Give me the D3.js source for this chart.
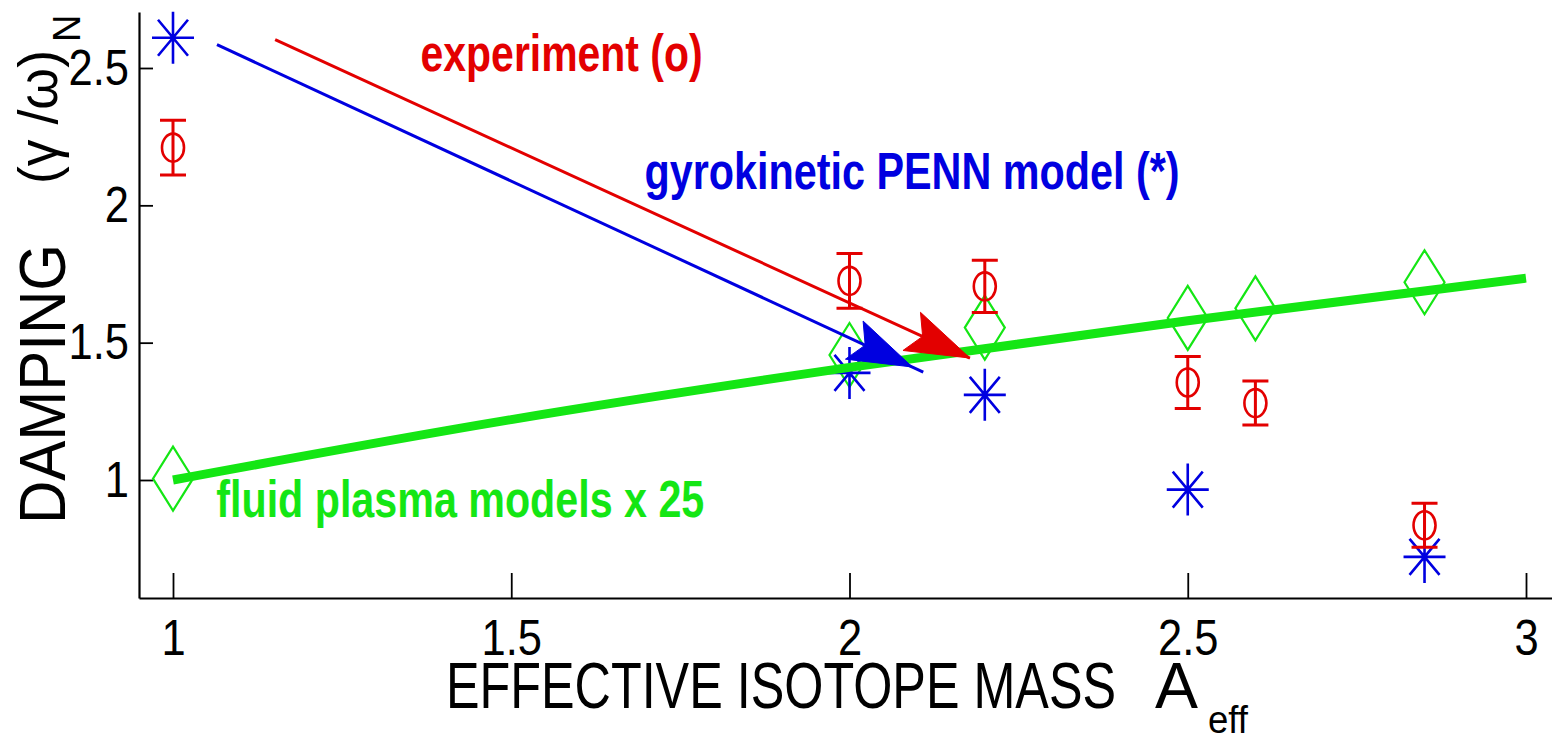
<!DOCTYPE html>
<html><head><meta charset="utf-8">
<script src="https://cdn.jsdelivr.net/npm/d3@7"></script>
<style>body{margin:0;background:#fff}svg{display:block}</style>
</head><body>
<svg id="c" width="1552" height="743"></svg>
<script>
// ---- data ----
const expX = [1, 2, 2.2, 2.5, 2.6, 2.85];
const experiment = [2.21, 1.725, 1.705, 1.355, 1.28, 0.835];
const expError = [0.10, 0.10, 0.095, 0.095, 0.08, 0.08];
const gyroX = [1, 2, 2.2, 2.5, 2.85];
const gyrokinetic = [2.61, 1.39, 1.31, 0.965, 0.72];
const fluidX = [1, 2, 2.2, 2.5, 2.6, 2.85];
const fluid = [1.005, 1.455, 1.555, 1.59, 1.625, 1.72];
const fitX = [1, 1.5, 2, 2.5, 3];
const fluidFit = [1.0, 1.22, 1.41, 1.58, 1.735];
const xTicks = [1, 1.5, 2, 2.5, 3];
const yTicks = [1, 1.5, 2, 2.5];
const arrowFrom = [[1.065, 2.585], [1.151, 2.603]];
const arrowTo = [[2.109, 1.393], [2.178, 1.444]];
const annotations = ["experiment (o)", "gyrokinetic PENN model (*)", "fluid plasma models x 25"];
const annotationAt = [[1.366, 2.49], [1.697, 2.06], [1.064, 0.865]];

// ---- styles ----
const RED = "#e30000", BLUE = "#0000e0", GREEN = "#14e614";
const FONT = "'Liberation Sans', Arial, sans-serif";

const svg = d3.select("#c");
const x = d3.scaleLinear().domain([1, 3]).range([173, 1526]);
const y = d3.scaleLinear().domain([1, 2.5]).range([480, 68]);
const L = 139, B = 598, T = 12, R = 1552;
const xAxisScale = d3.scaleLinear().domain([x.invert(L), x.invert(R)]).range([L, R]);
const yAxisScale = d3.scaleLinear().domain([y.invert(B), y.invert(T)]).range([B, T]);

function condense(sel, f) {
  sel.each(function () {
    const len = this.getComputedTextLength();
    d3.select(this).attr("textLength", len * f).attr("lengthAdjust", "spacingAndGlyphs");
  });
}

// axes
const gx = svg.append("g").attr("transform", `translate(0,${B})`)
  .call(d3.axisBottom(xAxisScale).tickValues(xTicks).tickSize(-25).tickSizeOuter(0).tickPadding(21).tickFormat(d3.format("~g")));
const gy = svg.append("g").attr("transform", `translate(${L},0)`)
  .call(d3.axisLeft(yAxisScale).tickValues(yTicks).tickSize(-14).tickSizeOuter(0).tickPadding(10).tickFormat(d3.format("~g")));
[gx, gy].forEach(g => {
  g.attr("font-family", null).attr("font-size", null);
  g.select(".domain").attr("stroke", "#000").attr("stroke-width", 2.2);
  g.selectAll(".tick line").attr("stroke", "#000").attr("stroke-width", 1.8);
  g.selectAll(".tick text").attr("fill", "#000").style("font-family", FONT).style("font-size", "50px");
});
condense(gx.selectAll(".tick text"), 0.87);
condense(gy.selectAll(".tick text"), 0.87);

// axis labels
svg.append("text").attr("x", 446).attr("y", 708)
  .style("font-family", FONT).style("font-size", "64px").attr("fill", "#000")
  .text("EFFECTIVE ISOTOPE MASS")
  .attr("textLength", 670).attr("lengthAdjust", "spacingAndGlyphs");
svg.append("text").attr("x", 1155).attr("y", 708)
  .style("font-family", FONT).style("font-size", "64px").attr("fill", "#000").text("A")
  .attr("textLength", 43).attr("lengthAdjust", "spacingAndGlyphs");
svg.append("text").attr("x", 1208).attr("y", 733)
  .style("font-family", FONT).style("font-size", "38px").attr("fill", "#000").text("eff")
  .attr("textLength", 40).attr("lengthAdjust", "spacingAndGlyphs");

svg.append("text").attr("transform", "translate(65,524) rotate(-90)")
  .style("font-family", FONT).style("font-size", "64px").attr("fill", "#000").text("DAMPING")
  .attr("textLength", 280).attr("lengthAdjust", "spacingAndGlyphs");
svg.append("text").attr("transform", "translate(57,184) rotate(-90)")
  .style("font-family", FONT).style("font-size", "56px").attr("fill", "#000").text("(γ /ω)")
  .attr("textLength", 134).attr("lengthAdjust", "spacingAndGlyphs");
svg.append("text").attr("transform", "translate(80,42) rotate(-90)")
  .style("font-family", FONT).style("font-size", "38px").attr("fill", "#000").text("N");

// fluid diamonds
svg.append("g").selectAll("path").data(fluidX).join("path")
  .attr("d", "M0,-32L20,0L0,32L-20,0Z")
  .attr("transform", (d, i) => `translate(${x(d)},${y(fluid[i])})`)
  .attr("fill", "none").attr("stroke", GREEN).attr("stroke-width", 2.2);

// gyrokinetic asterisks
svg.append("g").selectAll("path").data(gyroX).join("path")
  .attr("d", "M0,-26V26M-21,0H21M-15,-18L15,18M-15,18L15,-18")
  .attr("transform", (d, i) => `translate(${x(d)},${y(gyrokinetic[i])})`)
  .attr("fill", "none").attr("stroke", BLUE).attr("stroke-width", 2.6);

// experiment circles + error bars
const ge = svg.append("g").selectAll("g").data(expX).join("g")
  .attr("transform", d => `translate(${x(d)},0)`);
ge.append("path")
  .attr("d", (d, i) => {
    const t = y(experiment[i] + expError[i]), b = y(experiment[i] - expError[i]);
    return `M0,${t}V${b}M-13,${t}H13M-13,${b}H13`;
  })
  .attr("fill", "none").attr("stroke", RED).attr("stroke-width", 3);
ge.append("ellipse").attr("cx", 0).attr("cy", (d, i) => y(experiment[i]))
  .attr("rx", 11).attr("ry", 14).attr("fill", "none").attr("stroke", RED).attr("stroke-width", 2.6);

// fluid model curve
svg.append("path").datum(fitX)
  .attr("d", d3.line().x(d => x(d)).y((d, i) => y(fluidFit[i])).curve(d3.curveMonotoneX))
  .attr("fill", "none").attr("stroke", GREEN).attr("stroke-width", 9);

// arrows
const arrowColors = [BLUE, RED];
arrowFrom.forEach((p, i) => {
  const x0 = x(p[0]), y0 = y(p[1]), x1 = x(arrowTo[i][0]), y1 = y(arrowTo[i][1]);
  const dx = x1 - x0, dy = y1 - y0, len = Math.hypot(dx, dy);
  const ux = dx / len, uy = dy / len, px = -uy, py = ux;
  svg.append("line").attr("x1", x0).attr("y1", y0).attr("x2", x1).attr("y2", y1)
    .attr("stroke", arrowColors[i]).attr("stroke-width", 3);
  const back = i === 0 ? 12 : 0;
  const tx = x1 - ux * back, ty = y1 - uy * back;
  const hl = 64, hw = 21, notch = 12;
  const bx = tx - ux * hl, by = ty - uy * hl;
  const pts = [[tx, ty], [bx + px * hw, by + py * hw], [bx + ux * notch, by + uy * notch], [bx - px * hw, by - py * hw]];
  svg.append("path").attr("d", "M" + pts.map(q => q.join(",")).join("L") + "Z")
    .attr("fill", arrowColors[i]).attr("stroke", arrowColors[i]).attr("stroke-width", 1);
});

// annotations
const annColors = [RED, BLUE, GREEN];
const annWidths = [282, 535, 488];
annotations.forEach((s, i) => {
  svg.append("text").attr("x", x(annotationAt[i][0])).attr("y", y(annotationAt[i][1]))
    .style("font-family", FONT).style("font-size", "52px").style("font-weight", "bold")
    .attr("fill", annColors[i]).text(s)
    .attr("textLength", annWidths[i]).attr("lengthAdjust", "spacingAndGlyphs");
});
</script>
</body></html>
